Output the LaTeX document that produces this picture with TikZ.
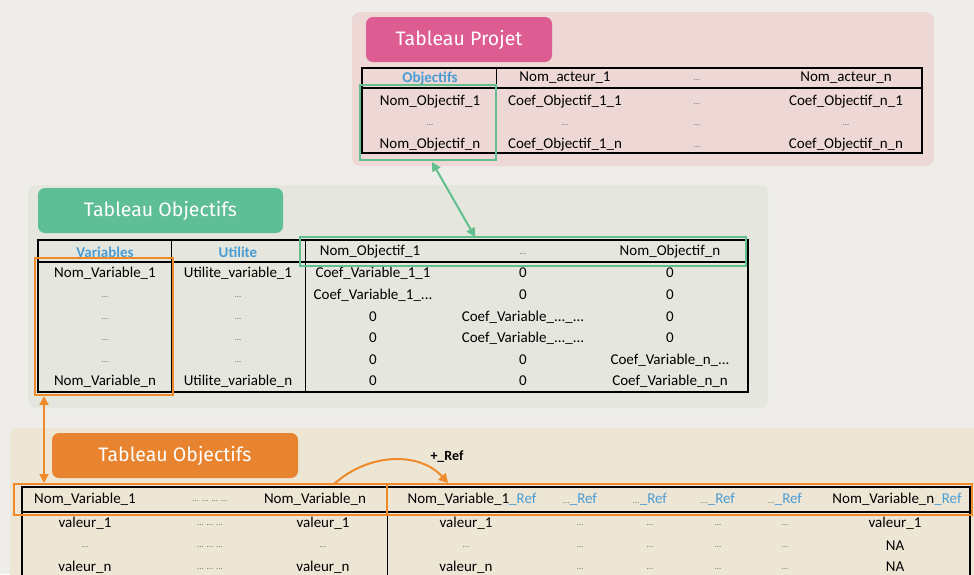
\documentclass[tikz,border=0pt]{standalone}
\usepackage{fontspec}
\setmainfont{Carlito}
\newfontfamily\titlefont{Fira Sans}
\usetikzlibrary{arrows.meta}
\definecolor{bgc}{HTML}{EEEDE9}
\definecolor{pinkpanel}{HTML}{EDD8D5}
\definecolor{pinktitle}{HTML}{DD5D92}
\definecolor{greenpanel}{HTML}{E5E7DE}
\definecolor{greentitle}{HTML}{5EBE96}
\definecolor{beigepanel}{HTML}{EEE6D5}
\definecolor{orangetitle}{HTML}{E8842F}
\definecolor{hlgreen}{HTML}{62BE8C}
\definecolor{hlorange}{HTML}{EE8A2A}
\definecolor{hdrblue}{HTML}{4B9CD3}
\tikzset{
  titlebox/.style={rounded corners=7, text=white, font=\titlefont\fontsize{19.5}{22}\selectfont, inner sep=0},
  cell/.style={font=\fontsize{15}{17}\selectfont, inner sep=0},
  hdr/.style={font=\fontsize{15}{17}\selectfont\bfseries, text=hdrblue, inner sep=0},
  dotc/.style={font=\fontsize{9}{10}\selectfont, text=black!55, inner sep=0},
  tabframe/.style={line width=2.2},
  hlg/.style={draw=hlgreen, line width=2.2},
  hlo/.style={draw=hlorange, line width=2.2},
}
\newcommand{\rf}{\textcolor{hdrblue}{\_Ref}}
\newcommand{\dts}{...}
\begin{document}
\begin{tikzpicture}[x=1pt,y=-1pt]
\fill[bgc] (0,0) rectangle (974,574);
\useasboundingbox (0,0) rectangle (974,574);
% panels
\fill[pinkpanel, rounded corners=8] (352,12) rectangle (934,166);
\fill[greenpanel, rounded corners=8] (28,185) rectangle (768,408);
\fill[beigepanel, rounded corners=8] (10,428) rectangle (990,600);
\node[titlebox, fill=pinktitle, minimum width=186, minimum height=45] (tprojet) at (459,39.5) {Tableau Projet};
\node[titlebox, fill=greentitle, minimum width=245, minimum height=45] (tobj) at (160.5,210.5) {Tableau Objectifs};
\node[titlebox, fill=orangetitle, minimum width=246, minimum height=45] (tvar) at (175,455.5) {Tableau Objectifs};

% tableau projet
\draw[line width=1.2] (362,88) -- (922,88);
\draw[line width=0.6] (496,68) -- (496,88);
\draw[tabframe] (362,68) rectangle (922,153);
\node[hdr] (p00) at (430,78) {Objectifs};
\node[cell] (p01) at (565,78) {Nom\_acteur\_1};
\node[dotc] (p02) at (697,80) {\dts};
\node[cell] (p03) at (846,78) {Nom\_acteur\_n};
\node[cell] (p10) at (430,102) {Nom\_Objectif\_1};
\node[cell] (p11) at (565,102) {Coef\_Objectif\_1\_1};
\node[dotc] (p12) at (697,104) {\dts};
\node[cell] (p13) at (846,102) {Coef\_Objectif\_n\_1};
\foreach \x [count=\i] in {430,565,697,846}
  \node[dotc] (p2\i) at (\x,125) {\dts};
\node[cell] (p30) at (430,145) {Nom\_Objectif\_n};
\node[cell] (p31) at (565,145) {Coef\_Objectif\_1\_n};
\node[dotc] (p32) at (697,147) {\dts};
\node[cell] (p33) at (846,145) {Coef\_Objectif\_n\_n};
\draw[hlg] (360,85) rectangle (496,160);

% tableau objectifs
\draw[line width=1.2] (38,262) -- (748,262);
\draw[line width=0.6] (171,240) -- (171,392);
\draw[line width=0.6] (305,240) -- (305,392);
\draw[tabframe] (38,240) rectangle (748,392);
\node[hdr] (o00) at (105,252) {Variables};
\node[hdr] (o01) at (238,252) {Utilite};
\node[cell] (o02) at (370,252) {Nom\_Objectif\_1};
\node[dotc] (o03) at (523,254) {\dts};
\node[cell] (o04) at (670,252) {Nom\_Objectif\_n};
\node[cell] (o10) at (105,273) {Nom\_Variable\_1};
\node[cell] (o11) at (238,273) {Utilite\_variable\_1};
\node[cell] (o12) at (373,273) {Coef\_Variable\_1\_1};
\node[cell] (o13) at (523,273) {0};
\node[cell] (o14) at (670,273) {0};
\foreach \y [count=\i from 2] in {295,317,338,360}{
  \node[dotc] (o\i0) at (105,\y+2) {\dts};
  \node[dotc] (o\i1) at (238,\y+2) {\dts};
}
\node[cell] (o22) at (373,295) {Coef\_Variable\_1\_\dts};
\node[cell] (o23) at (523,295) {0};
\node[cell] (o24) at (670,295) {0};
\node[cell] (o32) at (373,317) {0};
\node[cell] (o33) at (523,317) {Coef\_Variable\_\dts\_\dts};
\node[cell] (o34) at (670,317) {0};
\node[cell] (o42) at (373,338) {0};
\node[cell] (o43) at (523,338) {Coef\_Variable\_\dts\_\dts};
\node[cell] (o44) at (670,338) {0};
\node[cell] (o52) at (373,360) {0};
\node[cell] (o53) at (523,360) {0};
\node[cell] (o54) at (670,360) {Coef\_Variable\_n\_\dts};
\node[cell] (o60) at (105,381) {Nom\_Variable\_n};
\node[cell] (o61) at (238,381) {Utilite\_variable\_n};
\node[cell] (o62) at (373,381) {0};
\node[cell] (o63) at (523,381) {0};
\node[cell] (o64) at (670,381) {Coef\_Variable\_n\_n};
\draw[hlg] (300,237) rectangle (746,266);
\draw[hlo] (35,258) rectangle (173,395);

% tableau variables
\draw[line width=1.2] (22,512) -- (970,512);
\draw[line width=0.8] (387,487) -- (387,580);
\draw[tabframe] (22,580) -- (22,487) -- (970,487) -- (970,580);
\node[cell] (v00) at (85,499) {Nom\_Variable\_1};
\node[dotc] (v01) at (210,501) {\dts{} \dts{} \dts{} \dts};
\node[cell] (v02) at (315,499) {Nom\_Variable\_n};
\node[cell] (v03) at (472,499) {Nom\_Variable\_1\rf};
\foreach \x [count=\i from 4] in {580,650,718,785}
  \node[cell] (v0\i) at (\x,499) {\textcolor{black!55}{\fontsize{9}{10}\selectfont\dts}\rf};
\node[cell] (v08) at (897,499) {Nom\_Variable\_n\rf};
\foreach \y/\va/\vb [count=\i] in {523/valeur\_1/valeur\_1, 567/valeur\_n/NA}{
  \node[cell] (v\i0) at (85,\y) {\va};
  \node[cell] (v\i2) at (323,\y) {\va};
  \node[cell] (v\i3) at (466,\y) {\va};
  \node[cell] (v\i8) at (895,\y) {\vb};
}
\foreach \x [count=\j] in {85,323,466}
  \node[dotc] (vm\j) at (\x,547) {\dts};
\node[cell] (vm8) at (895,546) {NA};
\foreach \y [count=\i] in {525,547,569}{
  \node[dotc] (vd\i) at (210,\y) {\dts{} \dts{} \dts};
  \foreach \x [count=\j from 4] in {580,650,718,785}
    \node[dotc] (vd\i\j) at (\x,\y) {\dts};
}
\draw[hlo] (14,484) rectangle (387,515);
\draw[hlo] (387,484) rectangle (972,515);
\node[font=\fontsize{14}{16}\selectfont\bfseries, inner sep=0] (plusref) at (447,457) {+\_Ref};

% connecteurs
\coordinate (ga) at (432,162);
\coordinate (gb) at (475,237);
\draw[hlgreen, line width=2, {Triangle[length=9,width=9]}-{Triangle[length=9,width=9]}] (ga) -- (gb);
\coordinate (oa) at (44,396);
\coordinate (ob) at (44,483);
\draw[hlorange, line width=2, {Triangle[length=9,width=9]}-{Triangle[length=9,width=9]}] (oa) -- (ob);
\coordinate (ca) at (334,484);
\coordinate (cb) at (448,483);
\draw[hlorange, line width=2, -{Triangle[length=9,width=10]}] (ca) .. controls (370,452) and (420,452) .. (cb);
\end{tikzpicture}
\end{document}
